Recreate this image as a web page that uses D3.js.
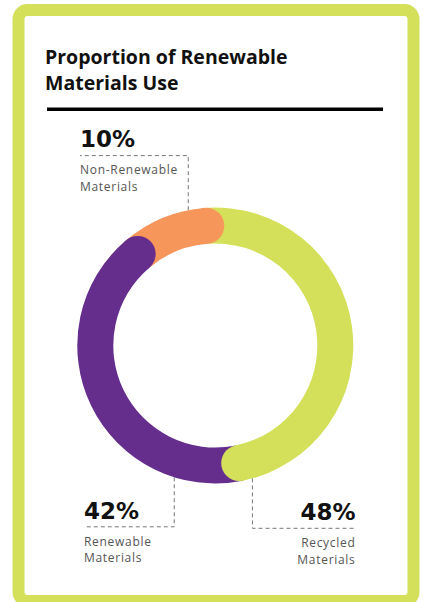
<!DOCTYPE html>
<html>
<head>
<meta charset="utf-8">
<script src="https://cdn.jsdelivr.net/npm/d3@7"></script>
<style>
  body { margin: 0; background: #fff; }
  svg { display: block; }
</style>
</head>
<body>
<div id="chart"></div>
<script>
// data
var categories = ["Recycled Materials", "Renewable Materials", "Non-Renewable Materials"];
var values = [48, 42, 10];
var pctLabels = ["48%", "42%", "10%"];
var labelLines = [["Recycled", "Materials"], ["Renewable", "Materials"], ["Non-Renewable", "Materials"]];
var colors = ["#d4e05a", "#652d8c", "#f7965a"];

var width = 430, height = 602;
var svg = d3.select("#chart").append("svg")
    .attr("width", width)
    .attr("height", height);

// card border
svg.append("rect")
    .attr("x", 18.5).attr("y", 10)
    .attr("width", 395).attr("height", 591)
    .attr("rx", 9)
    .attr("fill", "#fff")
    .attr("stroke", "#d4e05a")
    .attr("stroke-width", 12);

// title
var title = svg.append("text")
    .attr("x", 45)
    .attr("font-family", "'Open Sans', sans-serif")
    .attr("font-weight", 700)
    .attr("font-size", "19.5px")
    .attr("fill", "#111");
title.append("tspan").attr("x", 45).attr("y", 63.5).text("Proportion of Renewable");
title.append("tspan").attr("x", 45).attr("y", 89.5).text("Materials Use");

svg.append("line")
    .attr("x1", 47).attr("x2", 383)
    .attr("y1", 109.3).attr("y2", 109.3)
    .attr("stroke", "#000")
    .attr("stroke-width", 3.5);

// donut
var cx = 215.3, cy = 345.5;
var outerR = 138, innerR = 102;
var midR = (outerR + innerR) / 2, capR = (outerR - innerR) / 2;

var pie = d3.pie()
    .sort(null)
    .startAngle(-0.075)
    .endAngle(2 * Math.PI - 0.075);
var arcs = pie(values);

var arc = d3.arc().innerRadius(innerR).outerRadius(outerR);

var g = svg.append("g").attr("transform", "translate(" + cx + "," + cy + ")");

// flat segments first
g.selectAll("path.seg")
    .data(arcs)
    .enter().append("path")
    .attr("class", "seg")
    .attr("d", arc)
    .attr("fill", function (d, i) { return colors[i]; });

// round caps at each segment end, drawn over the next segment
g.selectAll("circle.cap")
    .data(arcs)
    .enter().append("circle")
    .attr("class", "cap")
    .attr("cx", function (d) { return midR * Math.sin(d.endAngle); })
    .attr("cy", function (d) { return -midR * Math.cos(d.endAngle); })
    .attr("r", capR)
    .attr("fill", function (d, i) { return colors[i]; });

// labels with dashed leaders
// anchor: angle (deg) where the leader meets the ring, text x, pct baseline, align
var labelLayout = [
    {angle: 164.4, x: 355.5, y: 520, anchor: "end"},
    {angle: 197.3, x: 84, y: 518.5, anchor: "start"},
    {angle: 348.7, x: 80, y: 147.3, anchor: "start"}
];

labelLayout.forEach(function (L, i) {
    var a = L.angle * Math.PI / 180;
    var lx = cx + outerR * Math.sin(a);
    var ly = cy - outerR * Math.cos(a);
    var dashY = L.y + 8.3;

    svg.append("path")
        .attr("d", "M" + lx + "," + ly + "V" + dashY + "H" + L.x)
        .attr("fill", "none")
        .attr("stroke", "#777")
        .attr("stroke-width", 1)
        .attr("stroke-dasharray", "4,3");

    svg.append("text")
        .attr("x", L.x)
        .attr("y", L.y)
        .attr("text-anchor", L.anchor)
        .attr("font-family", "'DejaVu Sans', sans-serif")
        .attr("font-weight", 700)
        .attr("font-size", "23px")
        .attr("fill", "#111")
        .text(pctLabels[i]);

    var t = svg.append("text")
        .attr("text-anchor", L.anchor)
        .attr("font-family", "'Open Sans', sans-serif")
        .attr("font-size", "12px")
        .attr("letter-spacing", "0.7px")
        .attr("fill", "#555");
    labelLines[i].forEach(function (s, j) {
        t.append("tspan")
            .attr("x", L.x)
            .attr("y", L.y + 27 + j * 16.6)
            .text(s);
    });
});
</script>
</body>
</html>
